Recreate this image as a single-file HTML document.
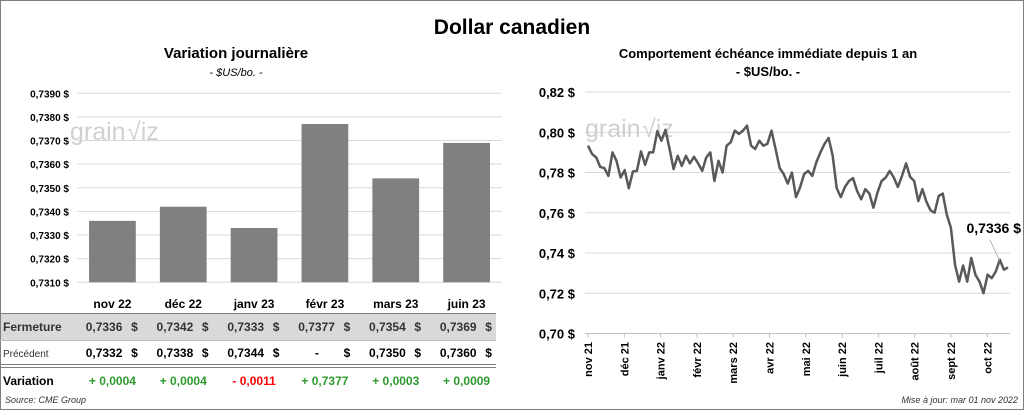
<!DOCTYPE html>
<html><head><meta charset="utf-8">
<style>
body{margin:0;background:#fff;font-family:"Liberation Sans",sans-serif;}
svg text{font-family:"Liberation Sans",sans-serif;}
</style></head>
<body>
<svg id="svg" width="1024" height="410" viewBox="0 0 1024 410" xmlns="http://www.w3.org/2000/svg">
<rect x="0.5" y="0.5" width="1023" height="409" fill="#fff" stroke="#7f7f7f"/>
<text x="512" y="34" text-anchor="middle" font-size="21" font-weight="bold" fill="#000">Dollar canadien</text>
<text x="236" y="58" text-anchor="middle" font-size="15" font-weight="bold">Variation  journalière</text>
<text x="236" y="76" text-anchor="middle" font-size="11" font-style="italic">- $US/bo. -</text>
<text x="768" y="58" text-anchor="middle" font-size="13" font-weight="bold">Comportement échéance immédiate depuis 1 an</text>
<text x="768" y="76" text-anchor="middle" font-size="13" font-weight="bold">- $US/bo. -</text>
<g id="left"></g>
<g id="table"></g>
<g id="right"></g>
<text x="5" y="403" font-size="9" font-style="italic" fill="#333">Source: CME Group</text>
<text x="1018" y="403" text-anchor="end" font-size="9" font-style="italic" fill="#333">Mise à jour: mar 01 nov 2022</text>
</svg>
<script>
const barCategories=["nov 22","déc 22","janv 23","févr 23","mars 23","juin 23"];
const barValues=[0.7336,0.7342,0.7333,0.7377,0.7354,0.7369];
const prevLabels=["0,7332","0,7338","0,7344","-","0,7350","0,7360"];
const closeLabels=["0,7336","0,7342","0,7333","0,7377","0,7354","0,7369"];
const varLabels=["+ 0,0004","+ 0,0004","- 0,0011","+ 0,7377","+ 0,0003","+ 0,0009"];
const barTicks=[0.7310,0.7320,0.7330,0.7340,0.7350,0.7360,0.7370,0.7380,0.7390];
const lineMonths=["nov 21","déc 21","janv 22","févr 22","mars 22","avr 22","mai 22","juin 22","juil 22","août 22","sept 22","oct 22"];
const lineTicks=[0.70,0.72,0.74,0.76,0.78,0.80,0.82];
const lineValues=[0.7933,0.7892,0.7875,0.7828,0.7822,0.7783,0.79,0.7858,0.7775,0.7812,0.7722,0.7805,0.7808,0.7905,0.7838,0.79,0.79,0.8005,0.7958,0.8012,0.7917,0.7817,0.7883,0.7833,0.7883,0.7845,0.7878,0.7845,0.7808,0.7875,0.79,0.7758,0.7858,0.78,0.7933,0.795,0.8008,0.7992,0.8008,0.8033,0.7933,0.7917,0.7958,0.7933,0.7942,0.8008,0.7917,0.7822,0.7792,0.7745,0.78,0.7678,0.7725,0.7792,0.7808,0.7783,0.785,0.79,0.7942,0.7972,0.7883,0.7722,0.7678,0.7728,0.7758,0.7772,0.7708,0.7667,0.7717,0.7695,0.7625,0.77,0.7758,0.7775,0.7808,0.7775,0.7728,0.7783,0.7845,0.7778,0.7758,0.7658,0.7717,0.7655,0.7612,0.76,0.7683,0.7695,0.759,0.7525,0.7342,0.7258,0.7338,0.7258,0.7375,0.7292,0.7258,0.72,0.7292,0.7275,0.7308,0.7367,0.7317,0.7328];
const NS="http://www.w3.org/2000/svg";
function mk(parent,tag,attrs,txt){const e=document.createElementNS(NS,tag);for(const k in attrs)e.setAttribute(k,attrs[k]);if(txt!==undefined)e.textContent=txt;parent.appendChild(e);return e;}
const L=document.getElementById('left');
const bx0=77,bx1=502,by0=282.3,by1=93.3,bmin=0.7310,bmax=0.7390;
const byS=v=>by0-(v-bmin)/(bmax-bmin)*(by0-by1);
const bw=(bx1-bx0)/barCategories.length;
barTicks.forEach(t=>{
 const g=mk(L,'line',{x1:bx0,x2:bx1,y1:byS(t),y2:byS(t),stroke:'#d9d9d9','stroke-width':1});
 
 
 const tx=mk(L,'text',{x:69,y:byS(t)+4,'text-anchor':'end','font-size':10,'font-weight':'bold'},t.toFixed(4).replace('.',',')+' $');
 
 
});
mk(L,'text',{x:70,y:140,'font-size':25,fill:'#d0d0d0'},'grain');
mk(L,'text',{x:127,y:140,'font-size':25,fill:'#d0d0d0'},'√iz');
barValues.forEach((v,i)=>{
 const x=bx0+bw*i+bw*0.17;
 const r=mk(L,'rect',{x:x,y:byS(v),width:bw*0.66,height:by0-byS(v),fill:'#808080'});
 
 
});
const T=document.getElementById('table');
mk(T,'rect',{x:1,y:313,width:495,height:27,fill:'#d9d9d9'});
mk(T,'line',{x1:0,x2:496,y1:313.5,y2:313.5,stroke:'#7f7f7f'});
mk(T,'line',{x1:0,x2:496,y1:340.5,y2:340.5,stroke:'#bfbfbf'});
mk(T,'line',{x1:0,x2:496,y1:364.5,y2:364.5,stroke:'#7f7f7f'});
mk(T,'line',{x1:0,x2:496,y1:367.5,y2:367.5,stroke:'#7f7f7f'});
mk(T,'text',{x:3,y:331,'font-size':12,'font-weight':'bold',fill:'#333'},'Fermeture');
mk(T,'text',{x:3,y:357,'font-size':10,fill:'#333'},'Précédent');
mk(T,'text',{x:3,y:385,'font-size':12,'font-weight':'bold'},'Variation');
barCategories.forEach((c,i)=>{
 const cx=bx0+bw*i+bw/2;
 const h=mk(T,'text',{x:cx,y:308,'text-anchor':'middle','font-size':12,'font-weight':'bold'},c);
 
 
 const a=mk(T,'text',{x:cx+10,y:331,'text-anchor':'end','font-size':12,'font-weight':'bold',fill:'#333'},closeLabels[i]);
 
 
 mk(T,'text',{x:cx+22,y:331,'text-anchor':'middle','font-size':12,'font-weight':'bold',fill:'#333'},'$');
 const b=mk(T,'text',{x:cx+10,y:357,'text-anchor':prevLabels[i]=='-'?'middle':'end','font-size':12,'font-weight':'bold'},prevLabels[i]);
 if(prevLabels[i]=='-')b.setAttribute('x',cx-8);
 
 
 mk(T,'text',{x:cx+22,y:357,'text-anchor':'middle','font-size':12,'font-weight':'bold'},'$');
 const d=mk(T,'text',{x:cx,y:385,'text-anchor':'middle','font-size':12,'font-weight':'bold',fill:varLabels[i][0]=='-'?'#ff0000':'#2e9a2e'},varLabels[i]);
 
 
});
const R=document.getElementById('right');
const lx0=588,lx1=1008,ly0=333.5,ly1=92,lmin=0.70,lmax=0.82;
const lyS=v=>ly0-(v-lmin)/(lmax-lmin)*(ly0-ly1);
const lxS=i=>lx0+i*(lx1-lx0)/(lineValues.length-1);
lineTicks.forEach(t=>{
 const g=mk(R,'line',{x1:585,x2:1010,y1:lyS(t),y2:lyS(t),stroke:t==lmin?'#bfbfbf':'#d9d9d9'});
 
 
 const tx=mk(R,'text',{x:575,y:lyS(t)+5,'text-anchor':'end','font-size':13,'font-weight':'bold'},t.toFixed(2).replace('.',',')+' $');
 
 
});
mk(R,'text',{x:585,y:137,'font-size':25,fill:'#d0d0d0'},'grain');
mk(R,'text',{x:642,y:137,'font-size':25,fill:'#d0d0d0'},'√iz');
const mw=36.3;
lineMonths.forEach((m,i)=>{
 const x=588+mw*i;
 mk(R,'line',{x1:x,x2:x,y1:ly0,y2:ly0+4,stroke:'#bfbfbf'});
 const t=mk(R,'text',{x:0,y:0,'text-anchor':'end','font-size':11,'font-weight':'bold',transform:`translate(${x+4},342) rotate(-90)`},m);
 
 
});
const pts=lineValues.map((v,i)=>lxS(i).toFixed(1)+','+lyS(v).toFixed(1)).join(' ');
const pl=mk(R,'polyline',{points:pts,fill:'none',stroke:'#595959','stroke-width':2.5,'stroke-linejoin':'round'});


const li=lineValues.length-1;
mk(R,'line',{x1:990,y1:240,x2:lxS(li)-8,y2:lyS(lineValues[li])-6,stroke:'#a6a6a6','stroke-width':0.8});
const lab=mk(R,'text',{x:1021,y:233,'text-anchor':'end','font-size':14,'font-weight':'bold'},'0,7336 $');


</script>
</body></html>
